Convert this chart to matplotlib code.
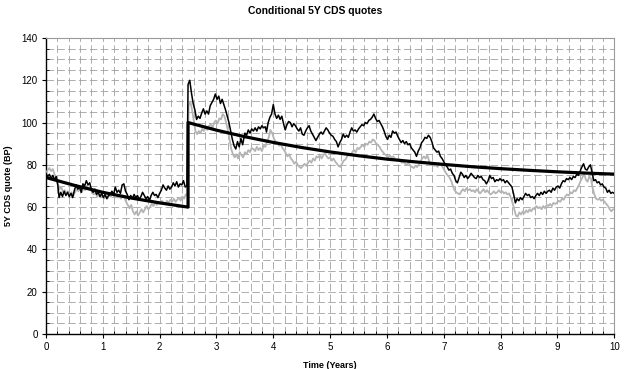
import matplotlib
matplotlib.use("Agg")
import matplotlib.pyplot as plt
from matplotlib.ticker import MultipleLocator

plt.rcParams["font.family"] = ["Liberation Sans", "DejaVu Sans"]

# model curve (jump at default time 2.5y)
model_t = [0.0, 0.5, 1.0, 1.5, 2.0, 2.5, 2.5, 3.0, 3.5, 4.0, 4.5, 5.0, 5.5, 6.0,
           6.5, 7.0, 7.5, 8.0, 8.5, 9.0, 9.5, 10.0]
model_v = [74.0, 70.3, 67.0, 64.3, 62.0, 60.0, 100.0, 96.4, 93.3, 90.6, 88.2, 86.1,
           84.3, 82.7, 81.4, 80.2, 79.1, 78.2, 77.4, 76.7, 76.1, 75.6]

# simulated quote path (black)
black_t = [0.00, 0.03, 0.06, 0.09, 0.12, 0.15, 0.18, 0.21, 0.23, 0.26, 0.29, 0.32, 0.35, 0.38,
           0.41, 0.44, 0.47, 0.50, 0.53, 0.56, 0.59, 0.62, 0.65, 0.68, 0.71, 0.74, 0.77, 0.80,
           0.83, 0.86, 0.89, 0.92, 0.95, 0.98, 1.01, 1.04, 1.07, 1.10, 1.13, 1.16, 1.19, 1.22,
           1.25, 1.28, 1.31, 1.34, 1.37, 1.40, 1.43, 1.46, 1.49, 1.52, 1.55, 1.58, 1.61, 1.64,
           1.67, 1.70, 1.73, 1.76, 1.79, 1.82, 1.85, 1.88, 1.91, 1.94, 1.97, 2.00, 2.03, 2.06,
           2.09, 2.12, 2.15, 2.18, 2.21, 2.24, 2.27, 2.30, 2.33, 2.36, 2.39, 2.42, 2.45, 2.48,
           2.50, 2.53, 2.56, 2.59, 2.62, 2.65, 2.68, 2.71, 2.74, 2.77, 2.80, 2.83, 2.86, 2.89,
           2.92, 2.95, 2.98, 3.01, 3.04, 3.07, 3.10, 3.13, 3.16, 3.19, 3.22, 3.25, 3.28, 3.31,
           3.34, 3.37, 3.40, 3.43, 3.46, 3.50, 3.53, 3.56, 3.59, 3.62, 3.65, 3.68, 3.71, 3.74,
           3.77, 3.80, 3.83, 3.86, 3.88, 3.91, 3.94, 3.97, 4.00, 4.03, 4.06, 4.09, 4.12, 4.15,
           4.18, 4.21, 4.24, 4.27, 4.30, 4.33, 4.36, 4.39, 4.42, 4.45, 4.48, 4.51, 4.54, 4.57,
           4.60, 4.63, 4.66, 4.69, 4.72, 4.75, 4.78, 4.81, 4.84, 4.87, 4.90, 4.93, 4.96, 4.99,
           5.02, 5.05, 5.08, 5.11, 5.14, 5.17, 5.20, 5.23, 5.26, 5.29, 5.32, 5.35, 5.38, 5.41,
           5.44, 5.47, 5.50, 5.53, 5.56, 5.59, 5.62, 5.65, 5.68, 5.71, 5.74, 5.77, 5.80, 5.83,
           5.86, 5.89, 5.92, 5.95, 5.98, 6.01, 6.04, 6.07, 6.10, 6.13, 6.16, 6.19, 6.22, 6.25,
           6.28, 6.31, 6.34, 6.37, 6.40, 6.43, 6.46, 6.49, 6.52, 6.55, 6.58, 6.61, 6.64, 6.67,
           6.70, 6.73, 6.76, 6.79, 6.82, 6.85, 6.88, 6.91, 6.94, 6.97, 7.00, 7.03, 7.06, 7.09,
           7.12, 7.15, 7.18, 7.21, 7.24, 7.27, 7.30, 7.33, 7.36, 7.39, 7.42, 7.45, 7.48, 7.51,
           7.54, 7.57, 7.60, 7.63, 7.66, 7.69, 7.72, 7.75, 7.78, 7.81, 7.84, 7.87, 7.90, 7.93,
           7.96, 7.99, 8.02, 8.05, 8.08, 8.11, 8.14, 8.17, 8.20, 8.23, 8.26, 8.29, 8.32, 8.35,
           8.38, 8.41, 8.44, 8.47, 8.50, 8.53, 8.56, 8.59, 8.62, 8.65, 8.68, 8.71, 8.74, 8.77,
           8.80, 8.83, 8.86, 8.89, 8.92, 8.95, 8.98, 9.01, 9.04, 9.07, 9.10, 9.13, 9.16, 9.19,
           9.22, 9.25, 9.28, 9.31, 9.34, 9.37, 9.40, 9.43, 9.46, 9.49, 9.52, 9.55, 9.58, 9.61,
           9.64, 9.67, 9.70, 9.73, 9.76, 9.79, 9.82, 9.85, 9.88, 9.91, 9.94, 9.97, 10.00]
black_v = [76, 74.5, 75.5, 73.5, 75, 73, 74.5, 70, 64.5, 67, 65, 67.5, 65.5, 67,
           65, 66.5, 64.5, 68, 70.5, 68.5, 69.5, 67, 71, 70, 72.5, 70.5, 71.5, 68,
           67, 68.5, 66, 67, 65, 66.5, 64.5, 66, 64, 65.5, 66, 67.5, 66, 69.5,
           67, 68, 66.5, 70.5, 71, 67.5, 66, 63.5, 65.5, 64, 66, 64.5, 65.5, 63.5,
           65, 67, 65.5, 64, 65, 63, 65.5, 67, 65.5, 66, 64.5, 66.5, 68, 70.5,
           69, 68, 70, 68.5, 69.5, 71.5, 70, 72, 69.5, 71, 70.5, 72.5, 69.5, 70,
           118, 120, 114, 109, 106, 101.5, 103, 102, 104.5, 106.5, 104, 105.5, 104, 108,
           109.5, 111, 113.5, 111, 112.5, 109, 111, 108.5, 106, 103, 100, 96, 92, 89,
           87.5, 91, 88.5, 92.5, 89.5, 95, 94, 96.5, 95, 97, 96, 97.5, 96, 98,
           97, 98.5, 97.5, 98, 95.5, 100, 102.5, 104, 108.5, 104, 102, 103.5, 101.5, 103,
           99.5, 96.5, 99, 100.5, 100, 98, 99.5, 98.5, 97, 96, 97.5, 94.5, 94, 96,
           97.5, 98.5, 96, 94.5, 93, 91.5, 93, 94.5, 95.5, 94.5, 96, 97.5, 96.5, 95,
           94, 93.5, 92, 91, 88.5, 90.5, 92, 94.5, 93, 94, 93, 95.5, 97.5, 96,
           96.5, 95.5, 97, 98, 99, 98.5, 100, 99.5, 101, 101.5, 102.5, 104, 102, 100.5,
           101, 99.5, 98, 96, 93.5, 92, 94, 93, 96, 95, 95.5, 93.5, 92, 90.5,
           91.5, 90, 91, 89.5, 90, 88, 87, 86, 84, 86.5, 88, 90.5, 91.5, 93,
           92.5, 94, 93, 91, 88, 87, 86, 86.5, 84, 83, 81.5, 80, 79, 77.5,
           78, 76, 75, 72.5, 71.5, 74, 76.5, 75.5, 74, 75, 73.5, 74.5, 76, 75,
           74, 73.5, 75, 74, 74.5, 73, 72.5, 71, 72.5, 75, 73.5, 74, 72, 73,
           72.5, 73.5, 72.5, 73, 71.5, 72.5, 71.5, 70.5, 69.5, 66, 62, 64, 63, 64.5,
           63.5, 65, 66.5, 65.5, 66, 64.5, 65, 64, 65.5, 66.5, 65.5, 67, 66, 67.5,
           66.5, 67.5, 68, 67, 69, 68, 69.5, 70, 69, 71, 72.5, 72, 73.5, 73,
           74, 73, 74.5, 74, 75.5, 75, 77, 79, 80.5, 78, 77.5, 79, 80, 76.5,
           72.5, 73, 71.5, 72, 70.5, 71, 69.5, 69, 67, 68, 66.5, 67, 66.5]

# alternative quote path (grey)
grey_t = [0.00, 0.03, 0.06, 0.09, 0.12, 0.15, 0.18, 0.21, 0.24, 0.27, 0.30, 0.33, 0.36, 0.39,
          0.42, 0.45, 0.48, 0.51, 0.54, 0.57, 0.60, 0.63, 0.66, 0.69, 0.72, 0.75, 0.78, 0.81,
          0.84, 0.87, 0.90, 0.93, 0.96, 0.99, 1.02, 1.05, 1.08, 1.11, 1.14, 1.17, 1.20, 1.23,
          1.26, 1.29, 1.32, 1.35, 1.38, 1.41, 1.44, 1.47, 1.50, 1.53, 1.56, 1.59, 1.62, 1.65,
          1.68, 1.71, 1.74, 1.77, 1.80, 1.83, 1.86, 1.89, 1.92, 1.95, 1.98, 2.01, 2.04, 2.07,
          2.10, 2.13, 2.16, 2.19, 2.22, 2.25, 2.28, 2.31, 2.34, 2.37, 2.40, 2.43, 2.46, 2.49,
          2.51, 2.54, 2.57, 2.60, 2.63, 2.66, 2.69, 2.72, 2.75, 2.78, 2.81, 2.84, 2.87, 2.90,
          2.93, 2.96, 2.99, 3.02, 3.05, 3.08, 3.11, 3.14, 3.17, 3.20, 3.23, 3.26, 3.29, 3.32,
          3.35, 3.38, 3.41, 3.44, 3.47, 3.50, 3.53, 3.56, 3.59, 3.62, 3.65, 3.68, 3.71, 3.74,
          3.77, 3.80, 3.83, 3.86, 3.89, 3.92, 3.95, 3.98, 4.01, 4.04, 4.07, 4.10, 4.13, 4.16,
          4.19, 4.22, 4.25, 4.28, 4.31, 4.34, 4.37, 4.40, 4.43, 4.46, 4.49, 4.52, 4.55, 4.58,
          4.61, 4.64, 4.67, 4.70, 4.73, 4.76, 4.79, 4.82, 4.85, 4.88, 4.91, 4.94, 4.97, 5.00,
          5.03, 5.06, 5.09, 5.12, 5.15, 5.18, 5.21, 5.24, 5.27, 5.30, 5.33, 5.36, 5.39, 5.42,
          5.45, 5.48, 5.51, 5.54, 5.57, 5.60, 5.63, 5.66, 5.69, 5.72, 5.75, 5.78, 5.81, 5.84,
          5.87, 5.90, 5.93, 5.96, 5.99, 6.02, 6.05, 6.08, 6.11, 6.14, 6.17, 6.20, 6.23, 6.26,
          6.29, 6.32, 6.35, 6.38, 6.41, 6.44, 6.47, 6.50, 6.53, 6.56, 6.59, 6.62, 6.65, 6.68,
          6.71, 6.74, 6.77, 6.80, 6.83, 6.86, 6.89, 6.92, 6.95, 6.98, 7.01, 7.04, 7.07, 7.10,
          7.13, 7.16, 7.19, 7.22, 7.25, 7.28, 7.31, 7.34, 7.37, 7.40, 7.43, 7.46, 7.49, 7.52,
          7.55, 7.58, 7.61, 7.64, 7.67, 7.70, 7.73, 7.76, 7.79, 7.82, 7.85, 7.88, 7.91, 7.94,
          7.97, 8.00, 8.03, 8.06, 8.09, 8.12, 8.15, 8.18, 8.21, 8.24, 8.27, 8.30, 8.33, 8.36,
          8.39, 8.42, 8.45, 8.48, 8.51, 8.54, 8.57, 8.60, 8.63, 8.66, 8.69, 8.72, 8.75, 8.78,
          8.81, 8.84, 8.87, 8.90, 8.93, 8.96, 8.99, 9.02, 9.05, 9.08, 9.11, 9.14, 9.17, 9.20,
          9.23, 9.26, 9.29, 9.32, 9.35, 9.38, 9.41, 9.44, 9.47, 9.50, 9.53, 9.56, 9.59, 9.62,
          9.65, 9.68, 9.71, 9.74, 9.77, 9.80, 9.83, 9.86, 9.89, 9.92, 9.95, 9.98, 10.00]
grey_v = [76, 77.5, 78.5, 77, 78, 75.5, 74, 71, 68.5, 69.5, 67, 68, 66.5, 67.5,
          66, 67, 65.5, 67, 68.5, 67.5, 69, 67, 69, 68, 70, 68.5, 69.5, 67,
          66, 67, 65, 66, 64.5, 65.5, 64, 65, 64, 65.5, 65, 66.5, 65, 66,
          64.5, 65, 64, 65.5, 64.5, 62.5, 61, 59.5, 61, 58, 56.5, 58, 56, 57.5,
          59, 57.5, 59, 60.5, 59, 60, 61.5, 60.5, 62, 61, 62.5, 61.5, 63, 62,
          61.5, 63, 62, 63.5, 62.5, 64, 62.5, 63.5, 64.5, 63, 65, 64, 66, 65.5,
          108, 110, 106, 101, 96, 94.5, 96, 95, 97, 96, 97.5, 96.5, 98.5, 99,
          97.5, 100, 101, 99.5, 102, 101.5, 104, 103, 100, 96.5, 92, 87.5, 85, 83.5,
          85, 83, 86, 84.5, 83.5, 86, 85, 87, 86, 88, 87.5, 86.5, 88.5, 87,
          88, 86.5, 89, 88.5, 91, 93, 96.5, 95, 92.5, 91, 90.5, 89, 90, 88,
          87, 85.5, 84, 85, 83, 82, 80.5, 81.5, 80, 79, 78.5, 79.5, 80.5, 79.5,
          81, 82, 81, 83, 82, 84, 83.5, 84.5, 83, 84.5, 85.5, 84, 83, 83.5,
          82, 83, 81.5, 80.5, 79.5, 79, 80.5, 82, 82.5, 84, 85, 84.5, 86, 87,
          86, 88, 87.5, 88.5, 89.5, 88.5, 90, 89.5, 91, 90.5, 92, 91.5, 90, 89.5,
          88.5, 87, 86, 85, 84.5, 83.5, 84.5, 83.5, 84, 83, 82, 83, 82, 81,
          81.5, 80.5, 80, 81, 79.5, 79, 78.5, 79.5, 79, 80, 81.5, 83, 84, 83,
          84.5, 82, 80.5, 81, 79.5, 80, 79, 80.5, 80, 79, 77.5, 76, 75, 74,
          72.5, 70, 68, 67, 66.5, 66, 67.5, 68.5, 67.5, 69, 68, 68.5, 67.5, 68,
          67, 68.5, 67.5, 66.5, 67.5, 68.5, 67, 68, 67, 66, 66.5, 67.5, 66.5, 67,
          68, 67, 67.5, 66.5, 67, 66, 66.5, 64.5, 62, 59, 56, 55.5, 57.5, 56.5,
          58, 57, 58.5, 57.5, 59, 58, 59.5, 59, 60.5, 59.5, 60, 59, 60.5, 59.5,
          61, 60.5, 61.5, 60.5, 62, 61.5, 62, 63, 62.5, 64, 63.5, 65, 66, 65.5,
          67, 66.5, 68, 67.5, 69, 70.5, 72.5, 74, 76, 73, 72, 74.5, 73.5, 69,
          66, 64, 63.5, 64, 63, 63.5, 62.5, 61.5, 60.5, 59, 58, 59, 59]


def main():
    fig = plt.figure(figsize=(6.3, 3.69), dpi=100)
    ax = fig.add_axes([0.073, 0.095, 0.902, 0.802])

    ax.plot(grey_t, grey_v, color="#b4b4b4", linewidth=1.3, zorder=3)
    ax.plot(black_t, black_v, color="black", linewidth=1.1, zorder=4)
    ax.plot(model_t, model_v, color="black", linewidth=2.3, zorder=5)

    ax.set_xlim(0, 10)
    ax.set_ylim(0, 140)
    ax.xaxis.set_major_locator(MultipleLocator(1))
    ax.xaxis.set_minor_locator(MultipleLocator(0.2))
    ax.yaxis.set_major_locator(MultipleLocator(20))
    ax.yaxis.set_minor_locator(MultipleLocator(5))

    ax.grid(which="both", color="#a0a0a0", linewidth=0.6, linestyle=(0, (9, 4)), zorder=1)
    ax.set_axisbelow(True)

    for side in ("top", "right"):
        ax.spines[side].set_color("#9a9a9a")
        ax.spines[side].set_linewidth(0.8)
    for side in ("left", "bottom"):
        ax.spines[side].set_color("black")
        ax.spines[side].set_linewidth(1.0)

    ax.tick_params(which="major", direction="out", length=3, width=0.8, labelsize=7, pad=3)
    ax.tick_params(which="minor", direction="in", length=2, width=0.6)

    ax.set_xlabel("Time (Years)", fontsize=6.5, fontweight="bold", labelpad=6)
    ax.set_ylabel("5Y CDS quote (BP)", fontsize=6.5, fontweight="bold", labelpad=6)
    fig.text(0.5, 0.97, "Conditional 5Y CDS quotes", ha="center", va="center",
             fontsize=7.5, fontweight="bold")

    fig.savefig("out.png", dpi=100)
    plt.close(fig)


if __name__ == "__main__":
    main()
